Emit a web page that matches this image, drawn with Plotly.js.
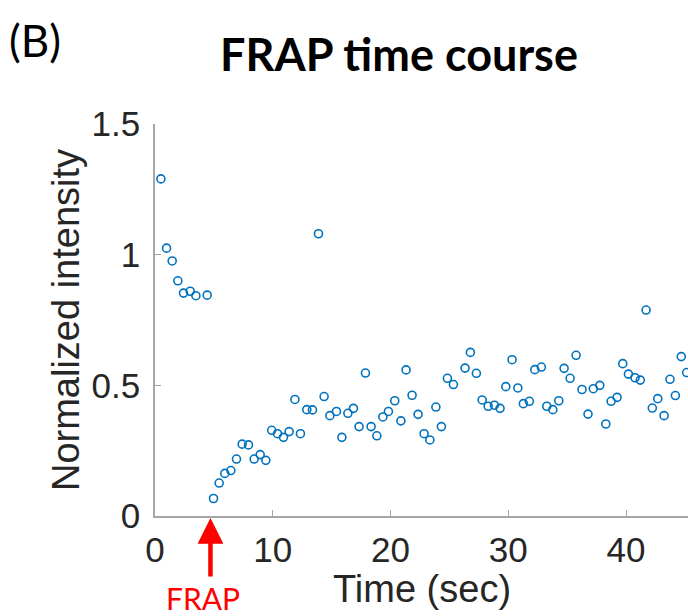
<!DOCTYPE html>
<html>
<head>
<meta charset="utf-8">
<script src="https://cdn.plot.ly/plotly-3.0.1.min.js"></script>
<style>html,body{margin:0;padding:0;background:#fff;}#chart{width:688px;height:616px;}</style>
</head>
<body>
<div id="chart"></div>
<script>
// Time (sec)
const timeSec = [0.50,0.98,1.46,1.94,2.42,2.99,3.47,4.43,4.97,5.45,5.93,6.44,6.92,7.40,7.94,8.42,8.93,9.41,9.91,10.40,10.91,11.39,11.88,12.35,12.89,13.37,13.88,14.36,14.85,15.41,15.87,16.38,16.85,17.33,17.87,18.35,18.84,19.35,19.82,20.36,20.88,21.32,21.83,22.34,22.85,23.34,23.85,24.32,24.83,25.34,26.33,26.78,27.29,27.78,28.29,28.82,29.30,29.79,30.32,30.81,31.28,31.79,32.25,32.81,33.27,33.78,34.29,34.74,35.25,35.76,36.26,36.77,37.22,37.77,38.28,38.73,39.24,39.72,40.20,40.76,41.21,41.70,42.23,42.69,43.23,43.73,44.19,44.69,45.15];
// Normalized intensity
const intensity = [1.29,1.025,0.976,0.90,0.853,0.86,0.843,0.845,0.067,0.126,0.163,0.174,0.218,0.275,0.272,0.218,0.235,0.213,0.328,0.315,0.301,0.323,0.446,0.315,0.407,0.406,1.08,0.457,0.384,0.40,0.301,0.393,0.412,0.342,0.547,0.342,0.307,0.379,0.40,0.441,0.364,0.559,0.462,0.389,0.315,0.291,0.417,0.342,0.527,0.503,0.566,0.626,0.546,0.444,0.420,0.424,0.412,0.495,0.598,0.49,0.43,0.439,0.56,0.570,0.42,0.407,0.441,0.565,0.527,0.615,0.484,0.39,0.487,0.50,0.352,0.439,0.454,0.583,0.543,0.529,0.520,0.788,0.413,0.449,0.384,0.523,0.461,0.61,0.549];
const xTicks = [0,10,20,30,40];
const yTicks = [0,0.5,1,1.5];
const yTickText = ['0','0.5','1','1.5'];
const frapTime = 4.71;
const chartTitle = 'FRAP time course';
const panelLabel = '(B)';
const xLabel = 'Time (sec)';
const yLabel = 'Normalized intensity';

const textColor = '#262626';
const axisColor = '#a6a6a6';
const tickFont = {family: 'Liberation Sans, Arial, sans-serif', size: 35, color: textColor};
const titleFontA = {family: 'Liberation Sans, Arial, sans-serif', size: 38, color: textColor};

const trace = {
  x: timeSec, y: intensity, type: 'scatter', mode: 'markers',
  marker: {symbol: 'circle-open', size: 8, color: '#0072BD', line: {width: 1.6, color: '#0072BD'}},
  hoverinfo: 'x+y'
};

const layout = {
  width: 688, height: 616,
  margin: {l: 155, r: 0, t: 124, b: 100, pad: 0},
  paper_bgcolor: '#fff', plot_bgcolor: '#fff',
  showlegend: false,
  title: {text: '<b>' + chartTitle + '</b>', x: 399/688, xref: 'container', xanchor: 'center', y: 1 - 55/616, yref: 'container', yanchor: 'middle',
    font: {family: 'Lato, Open Sans, sans-serif', size: 45, color: '#000'}},
  xaxis: {
    range: [0, 45.26], tickvals: xTicks, ticktext: xTicks.map(String),
    ticks: 'inside', ticklen: 6, tickwidth: 1.3, tickcolor: axisColor,
    showline: true, linecolor: axisColor, linewidth: 1.5, mirror: false,
    showgrid: false, zeroline: false, tickfont: tickFont, ticklabelstandoff: 2
  },
  yaxis: {
    range: [0, 1.5], tickvals: yTicks, ticktext: yTickText,
    ticks: 'inside', ticklen: 6, tickwidth: 1.3, tickcolor: axisColor,
    showline: true, linecolor: axisColor, linewidth: 1.5, mirror: false,
    showgrid: false, zeroline: false, tickfont: tickFont, ticklabelstandoff: 6,
    title: {text: yLabel, font: titleFontA, standoff: 0}
  },
  annotations: [
    {text: xLabel, xref: 'paper', yref: 'paper', x: 0.5, y: (515.7-589)/392.1, xanchor: 'center', yanchor: 'middle', showarrow: false,
      font: titleFontA},
    {text: panelLabel, xref: 'paper', yref: 'paper', x: (7-155)/533, y: (515.7-40)/392.1, xanchor: 'left', yanchor: 'middle', showarrow: false,
      font: {family: 'Lato, Open Sans, sans-serif', size: 44, color: '#000'}},
    {text: '', xref: 'x', yref: 'y', x: frapTime, y: 0, ax: 0, ay: 62, axref: 'pixel', ayref: 'pixel',
      showarrow: true, arrowhead: 2, arrowsize: 1.15, arrowwidth: 4.5, arrowcolor: '#ff0000', standoff: 2},
    {text: 'FRAP', xref: 'x', yref: 'paper', x: frapTime - 0.6, y: (515.7-598)/392.1, xanchor: 'center', yanchor: 'middle', showarrow: false,
      font: {family: 'Lato, Open Sans, sans-serif', size: 30, color: '#ff0000'}}
  ]
};

Plotly.newPlot('chart', [trace], layout, {displayModeBar: false});
</script>
</body>
</html>
